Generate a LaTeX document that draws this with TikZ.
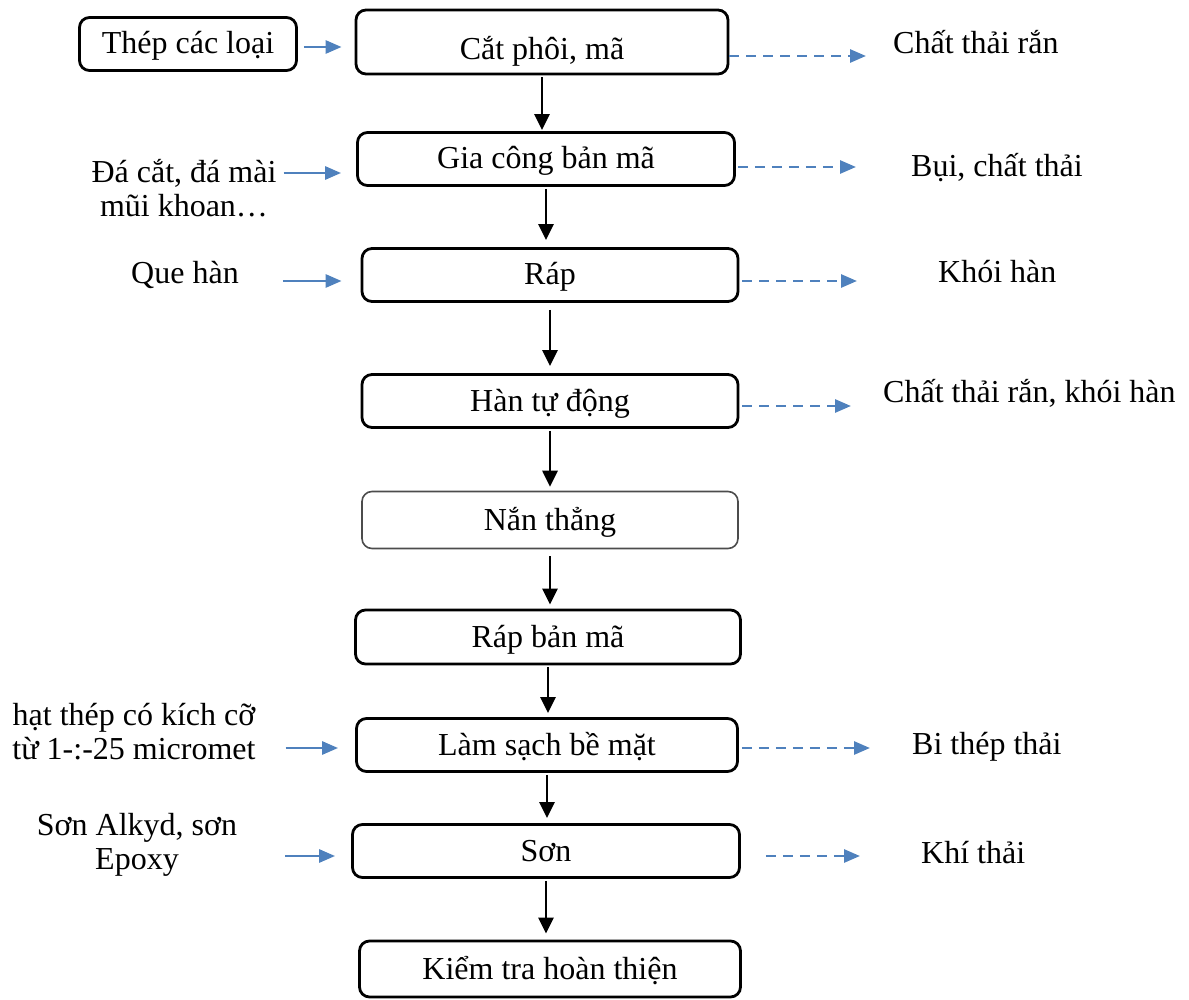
\documentclass[tikz,border=0pt]{standalone}
\usepackage{fontspec}
\setmainfont{Liberation Serif}
\usetikzlibrary{arrows.meta}
\definecolor{flowblue}{HTML}{4F81BD}

\begin{document}
\begin{tikzpicture}[
    x=1pt, y=-1pt,
    font=\fontsize{32}{34}\selectfont,
    stepbox/.style={rectangle, draw, line width=2.8pt, rounded corners=10pt, minimum width=376pt, minimum height=53pt, inner sep=0pt, align=center, text height=25pt, text depth=5pt},
    labeltext/.style={inner sep=0pt, align=center},
    arrow/.style={-{Triangle[length=16pt,width=15pt]}, line width=2.8pt, shorten <=2pt, shorten >=1pt},
    inarrow/.style={-{Triangle[length=16pt,width=13pt]}, line width=2.8pt, flowblue},
    outarrow/.style={-{Triangle[length=16pt,width=13pt]}, line width=2.8pt, flowblue, dash pattern=on 10pt off 7pt}
]
\useasboundingbox (0,0) rectangle (1189,1000);

% process steps
\node[stepbox, minimum width=217pt] (thep) at (188,44) {Thép các loại};
\node[stepbox, minimum width=372pt, minimum height=64pt, text height=40pt] (cat) at (542,42) {Cắt phôi, mã};
\node[stepbox, minimum width=377pt] (gia) at (546,159) {Gia công bản mã};
\node[stepbox] (rap) at (550,275) {Ráp};
\node[stepbox] (han) at (550,401) {Hàn tự động};
\node[stepbox, draw=black!70, line width=1.6pt, minimum height=57pt] (nan) at (550,520) {Nắn thẳng};
\node[stepbox, minimum width=385pt, minimum height=54pt] (rapban) at (548,637) {Ráp bản mã};
\node[stepbox, minimum width=381pt] (lam) at (547,745) {Làm sạch bề mặt};
\node[stepbox, minimum width=387pt] (son) at (546,851) {Sơn};
\node[stepbox, minimum width=381pt, minimum height=56pt] (kiem) at (550,969) {Kiểm tra hoàn thiện};

% inputs
\node[labeltext] (dacat) at (184,188) {Đá cắt, đá mài\\mũi khoan…};
\node[labeltext] (quehan) at (185,275) {Que hàn};
\node[labeltext] (hatthep) at (134,732) {hạt thép có kích cỡ\\từ 1-:-25 micromet};
\node[labeltext] (sonalkyd) at (137,845) {Sơn Alkyd, sơn\\Epoxy};

% outputs
\node[labeltext, anchor=west] (ctr1) at (893,42) {Chất thải rắn};
\node[labeltext, anchor=west] (bui) at (911,168) {Bụi, chất thải};
\node[labeltext, anchor=west] (khoi) at (938,272) {Khói hàn};
\node[labeltext, anchor=west] (ctr2) at (883,393) {Chất thải rắn, khói hàn};
\node[labeltext, anchor=west] (bithep) at (912,747) {Bi thép thải};
\node[labeltext, anchor=west] (khi) at (921,853) {Khí thải};

% main flow
\draw[arrow] (cat.south) -- (cat.south |- gia.north);
\draw[arrow, shorten >=7pt] (gia.south) -- (gia.south |- rap.north);
\draw[arrow, shorten <=7pt, shorten >=7pt] (rap.south) -- (rap.south |- han.north);
\draw[arrow, shorten >=4pt] (han.south) -- (han.south |- nan.north);
\draw[arrow, shorten <=7pt, shorten >=4pt] (nan.south) -- (nan.south |- rapban.north);
\draw[arrow, shorten >=4pt] (rapban.south) -- (rapban.south |- lam.north);
\draw[arrow, shorten >=5pt] (lam.south) -- (lam.south |- son.north);
\draw[arrow, shorten >=6pt] (son.south) -- (son.south |- kiem.north);

% input arrows
\draw[inarrow, shorten <=6pt, shorten >=13pt] ([yshift=-3pt]thep.east) -- ([yshift=-3pt]thep.east -| cat.west);
\draw[inarrow, shorten <=7pt, shorten >=15pt] ([yshift=-14pt]gia.west -| dacat.east) -- ([yshift=-14pt]gia.west);
\draw[inarrow, shorten <=44pt, shorten >=19pt] ([yshift=-6pt]rap.west -| quehan.east) -- ([yshift=-6pt]rap.west);
\draw[inarrow, shorten <=30pt, shorten >=17pt] ([yshift=-3pt]lam.west -| hatthep.east) -- ([yshift=-3pt]lam.west);
\draw[inarrow, shorten <=48pt, shorten >=16pt] ([yshift=-5pt]son.west -| sonalkyd.east) -- ([yshift=-5pt]son.west);

% output arrows
\draw[outarrow, shorten >=27pt] ([yshift=-14pt]cat.east) -- ([yshift=-14pt]cat.east -| ctr1.west);
\draw[outarrow, shorten <=2pt, shorten >=55pt] ([yshift=-8pt]gia.east) -- ([yshift=-8pt]gia.east -| bui.west);
\draw[outarrow, shorten <=3pt, shorten >=81pt] ([yshift=-6pt]rap.east) -- ([yshift=-6pt]rap.east -| khoi.west);
\draw[outarrow, shorten <=3pt, shorten >=32pt] ([yshift=-5pt]han.east) -- ([yshift=-5pt]han.east -| ctr2.west);
\draw[outarrow, shorten <=3pt, shorten >=42pt] ([yshift=-3pt]lam.east) -- ([yshift=-3pt]lam.east -| bithep.west);
\draw[outarrow, shorten <=25pt, shorten >=61pt] ([yshift=-5pt]son.east) -- ([yshift=-5pt]son.east -| khi.west);
\end{tikzpicture}
\end{document}
